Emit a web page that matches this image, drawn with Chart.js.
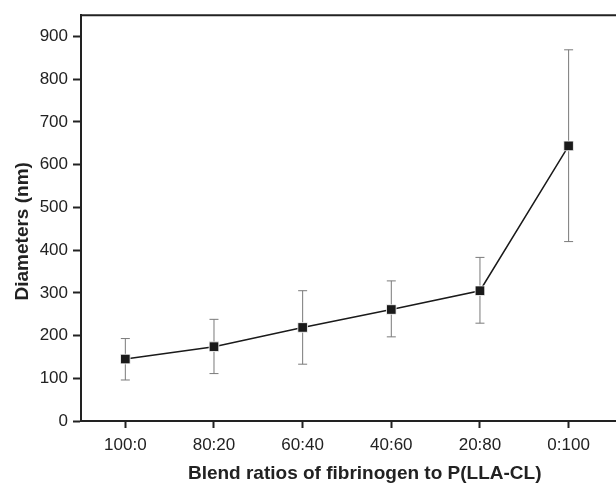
<!DOCTYPE html>
<html>
<head>
<meta charset="utf-8">
<script src="https://cdn.jsdelivr.net/npm/chart.js@4/dist/chart.umd.min.js"></script>
<style>
  html, body { margin: 0; padding: 0; background: #fff; }
  #wrap { width: 616px; height: 483px; overflow: hidden; }
</style>
</head>
<body>
<div id="wrap"><canvas id="diameterChart" width="656" height="483"></canvas></div>
<script>
// Blend ratios (fibrinogen : P(LLA-CL)) and fibre diameters in nm
const ratios = ['100:0', '80:20', '60:40', '40:60', '20:80', '0:100'];
const diameters = [145, 174, 219, 261, 305, 644];
const errUpper = [193, 238, 305, 328, 383, 869];
const errLower = [96, 111, 133, 197, 229, 420];
const yTicks = [0, 100, 200, 300, 400, 500, 600, 700, 800, 900];

const ink = '#222';
const fontFamily = '"Liberation Sans", Arial, Helvetica, sans-serif';

// Draw error bars under the markers, plus the top frame line
const errorBars = {
  id: 'errorBars',
  beforeDatasetsDraw(chart) {
    const ctx = chart.ctx;
    const x = chart.scales.x;
    const y = chart.scales.y;
    ctx.save();
    ctx.strokeStyle = '#7a7a7a';
    ctx.lineWidth = 1;
    ratios.forEach((r, i) => {
      const px = x.getPixelForValue(i);
      const top = y.getPixelForValue(errUpper[i]);
      const bot = y.getPixelForValue(errLower[i]);
      ctx.beginPath();
      ctx.moveTo(px, top);
      ctx.lineTo(px, bot);
      ctx.moveTo(px - 4.5, top);
      ctx.lineTo(px + 4.5, top);
      ctx.moveTo(px - 4.5, bot);
      ctx.lineTo(px + 4.5, bot);
      ctx.stroke();
    });
    ctx.restore();
  },
  afterDraw(chart) {
    const ctx = chart.ctx;
    const area = chart.chartArea;
    ctx.save();
    ctx.strokeStyle = ink;
    ctx.lineWidth = 2;
    ctx.beginPath();
    ctx.moveTo(area.left - 1, area.top);
    ctx.lineTo(chart.width, area.top);
    ctx.stroke();
    ctx.restore();
  }
};

const ctx = document.getElementById('diameterChart').getContext('2d');

new Chart(ctx, {
  type: 'line',
  data: {
    datasets: [{
      label: 'Diameters (nm)',
      data: diameters.map((d, i) => ({ x: i, y: d })),
      borderColor: '#1a1a1a',
      borderWidth: 1.5,
      pointStyle: 'rect',
      pointRadius: 6.8,
      pointBackgroundColor: '#1a1a1a',
      pointBorderColor: '#fff',
      pointBorderWidth: 0.8,
      tension: 0,
      fill: false
    }]
  },
  options: {
    responsive: false,
    animation: false,
    events: [],
    layout: {
      padding: { top: 13, right: 0, bottom: 0, left: 0 }
    },
    plugins: {
      legend: { display: false },
      tooltip: { enabled: false }
    },
    scales: {
      x: {
        type: 'linear',
        min: -0.5,
        max: 5.9,
        afterBuildTicks: scale => {
          scale.ticks = ratios.map((r, i) => ({ value: i }));
        },
        afterFit: scale => { scale.height = 62; },
        grid: {
          drawOnChartArea: false,
          tickLength: 7,
          tickWidth: 2,
          tickColor: ink
        },
        border: { color: ink, width: 2 },
        ticks: {
          padding: 7,
          color: ink,
          font: { family: fontFamily, size: 17 },
          callback: value => ratios[value]
        },
        title: {
          display: true,
          text: 'Blend ratios of fibrinogen to P(LLA-CL)',
          color: ink,
          font: { family: fontFamily, size: 19, weight: 'bold' },
          padding: { top: 0, bottom: -2 }
        }
      },
      y: {
        min: 0,
        max: 950,
        afterBuildTicks: scale => {
          scale.ticks = yTicks.map(v => ({ value: v }));
        },
        afterFit: scale => { scale.width = 81; },
        grid: {
          drawOnChartArea: false,
          tickLength: 8,
          tickWidth: 2,
          tickColor: ink
        },
        border: { color: ink, width: 2 },
        ticks: {
          padding: 5,
          color: ink,
          font: { family: fontFamily, size: 17 }
        },
        title: {
          display: true,
          text: 'Diameters (nm)\u00a0\u00a0\u00a0\u00a0\u00a0',
          color: ink,
          font: { family: fontFamily, size: 19, weight: 'bold' },
          padding: { top: 11, bottom: 0 }
        }
      }
    }
  },
  plugins: [errorBars]
});
</script>
</body>
</html>
